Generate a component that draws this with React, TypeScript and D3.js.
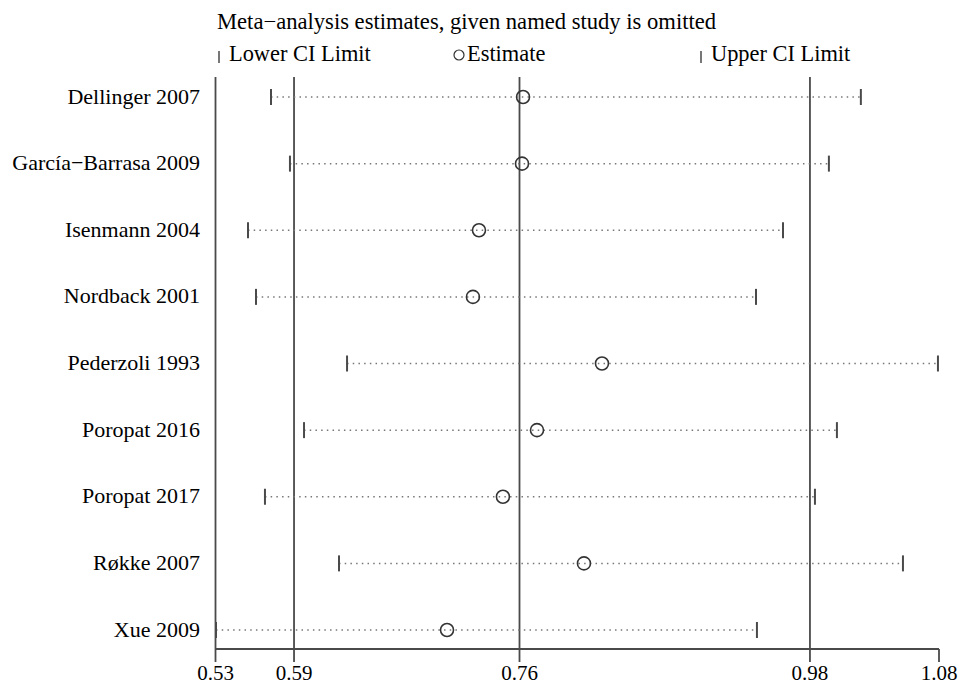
import React from "react";
import * as d3 from "d3";

const studies = [
  "Dellinger 2007",
  "García−Barrasa 2009",
  "Isenmann 2004",
  "Nordback 2001",
  "Pederzoli 1993",
  "Poropat 2016",
  "Poropat 2017",
  "Røkke 2007",
  "Xue 2009",
];
const estimates = [0.7638, 0.763, 0.7303, 0.7257, 0.8238, 0.7744, 0.7485, 0.8101, 0.706];
const lowerCI = [0.5722, 0.5866, 0.5547, 0.5608, 0.63, 0.5973, 0.5676, 0.6239, 0.5304];
const upperCI = [1.0206, 0.9963, 0.9614, 0.9409, 1.0792, 1.0024, 0.9857, 1.0526, 0.9416];

const refLines = [0.5897, 0.7611, 0.9819];
const tickValues = [0.53, 0.5897, 0.7611, 0.9819, 1.08];
const tickLabels = ["0.53", "0.59", "0.76", "0.98", "1.08"];

const title = "Meta−analysis estimates, given named study is omitted";
const legendLabels = ["Lower CI Limit", "Estimate", "Upper CI Limit"];

const W = 965;
const H = 684;
const FONT = "'Liberation Serif', 'Times New Roman', serif";
const LINE = "#4a4a4a";

export default function App() {
  const x = d3.scaleLinear().domain([0.53, 1.08]).range([215.5, 939]);
  const y = d3
    .scalePoint<string>()
    .domain(studies)
    .range([97, 630]);
  const plotTop = 77;
  const axisY = 649;
  const tickLen = 13;

  return (
    <svg
      width={W}
      height={H}
      style={{ position: "absolute", left: 0, top: 0, background: "#fff" }}
      fontFamily={FONT}
    >
      <rect width={W} height={H} fill="#fff" />
      {/* title */}
      <text x={217} y={29} fontSize={22.6} fill="#000">
        {title}
      </text>
      {/* legend */}
      <g fontSize={22.4} fill="#000">
        <line x1={219} x2={219} y1={51} y2={63} stroke={LINE} strokeWidth={1.5} />
        <text x={229} y={61}>{legendLabels[0]}</text>
        <circle cx={459} cy={55} r={5} fill="none" stroke="#333" strokeWidth={1.2} />
        <text x={467} y={61}>{legendLabels[1]}</text>
        <line x1={701} x2={701} y1={51} y2={63} stroke={LINE} strokeWidth={1.5} />
        <text x={711} y={61}>{legendLabels[2]}</text>
      </g>

      {/* left boundary line */}
      <line x1={x(0.53)} x2={x(0.53)} y1={plotTop} y2={axisY} stroke={LINE} strokeWidth={1.8} />
      {/* reference lines */}
      {refLines.map((v, i) => (
        <line key={i} x1={x(v)} x2={x(v)} y1={plotTop} y2={axisY} stroke={LINE} strokeWidth={1.8} />
      ))}

      {/* rows */}
      {studies.map((s, i) => {
        const yy = y(s)!;
        return (
          <g key={s}>
            <text
              x={200}
              y={yy}
              dy="0.3em"
              textAnchor="end"
              fontSize={22}
              fill="#000"
            >
              {s}
            </text>
            <line
              x1={x(lowerCI[i])}
              x2={x(upperCI[i])}
              y1={yy}
              y2={yy}
              stroke="#777"
              strokeWidth={1.5}
              strokeDasharray="1.5,4.2"
            />
            <line x1={x(lowerCI[i])} x2={x(lowerCI[i])} y1={yy - 8} y2={yy + 8} stroke={LINE} strokeWidth={2} />
            <line x1={x(upperCI[i])} x2={x(upperCI[i])} y1={yy - 8} y2={yy + 8} stroke={LINE} strokeWidth={2} />
            <circle cx={x(estimates[i])} cy={yy} r={6.5} fill="none" stroke="#333" strokeWidth={1.6} />
          </g>
        );
      })}

      {/* x axis */}
      <line x1={x(0.53)} x2={x(1.08)} y1={axisY} y2={axisY} stroke={LINE} strokeWidth={2} />
      {tickValues.map((v, i) => (
        <g key={i}>
          <line x1={x(v)} x2={x(v)} y1={axisY} y2={axisY + tickLen} stroke={LINE} strokeWidth={1.8} />
          <text x={x(v)} y={680} textAnchor="middle" fontSize={21} fill="#000">
            {tickLabels[i]}
          </text>
        </g>
      ))}
    </svg>
  );
}
